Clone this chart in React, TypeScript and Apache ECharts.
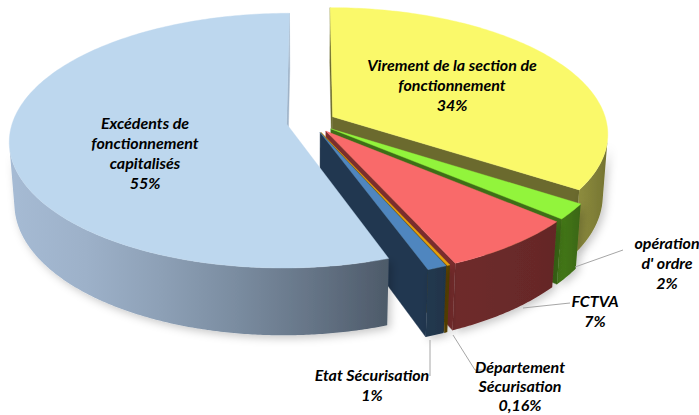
import React, { useEffect, useRef } from 'react';
import * as echarts from 'echarts';

// ---- data ----
const NAMES = [
  'Virement de la section de fonctionnement',
  "opération d' ordre",
  'FCTVA',
  'Département Sécurisation',
  'Etat Sécurisation',
  'Excédents de fonctionnement capitalisés',
];
const VALUES = [34, 2, 7, 0.16, 1, 55];
const LABEL_LINES = [
  ['Virement de la section de', 'fonctionnement'],
  ['opération', "d' ordre"],
  ['FCTVA'],
  ['Département', 'Sécurisation'],
  ['Etat Sécurisation'],
  ['Excédents de', 'fonctionnement', 'capitalisés'],
];

// ---- styles ----
const TOP_COLORS = ['#FAF96A', '#92F43C', '#F96A6A', '#E4A10C', '#4F86BF', '#BDD7EE'];
const WALL_LIGHT = ['#8E8D3E', '#44781A', '#6E2B2B', '#5E4700', '#22384F', '#A6BBD4'];
const WALL_DARK = ['#727131', '#3A6614', '#642727', '#554000', '#1F3449', '#4D5A69'];
const FACE_COLORS = ['#6B6A2E', '#3E6E17', '#7A2D2D', '#5E4700', '#213750', '#9FB3C8'];
const LABEL_POS = [
  [452, 84],
  [667, 262],
  [595, 310],
  [520, 385],
  [372, 384],
  [145, 152],
];
const LABEL_LH = [20, 20, 20, 19, 20, 20];
const LEADERS = [
  null,
  [[575, 267], [623, 250]],
  [[523, 308], [570, 303]],
  [[453, 335], [475, 370], [487, 370]],
  [[430, 340], [430, 376]],
  null,
];

// ---- projection (3D pie with perspective) ----
const CX = 311;
const CY = 122;
const S = 274;
const SIN_A = 0.455;
const COS_A = Math.sqrt(1 - SIN_A * SIN_A);
const DIST = 6.8;
const H = 0.254;
const EXPLODE = 0.09;
const CAM = [0, DIST * SIN_A, DIST * COS_A];

function proj(p: number[]): number[] {
  const [x, y, z] = p;
  const yv = y * COS_A - z * SIN_A;
  const d = y * SIN_A + z * COS_A;
  const f = DIST / (DIST - d);
  return [CX + x * f * S, CY - yv * f * S];
}

function hexToRgb(h: string) {
  const n = parseInt(h.slice(1), 16);
  return [(n >> 16) & 255, (n >> 8) & 255, n & 255];
}
function mix(a: string, b: string, t: number) {
  const A = hexToRgb(a);
  const B = hexToRgb(b);
  const c = A.map((v, i) => Math.round(v + (B[i] - v) * t));
  return `rgb(${c[0]},${c[1]},${c[2]})`;
}

const TOTAL = VALUES.reduce((a, b) => a + b, 0);
const STARTS: number[] = [];
{
  let acc = 0;
  VALUES.forEach((v) => {
    STARTS.push(90 - (acc / TOTAL) * 360);
    acc += v;
  });
}

function buildSlice(i: number) {
  const a0 = STARTS[i];
  const a1 = a0 - (VALUES[i] / TOTAL) * 360;
  const m = (((a0 + a1) / 2) * Math.PI) / 180;
  const ax = EXPLODE * Math.cos(m);
  const az = -EXPLODE * Math.sin(m);
  const rim = (deg: number, y: number) => {
    const t = (deg * Math.PI) / 180;
    return [ax + Math.cos(t), y, az - Math.sin(t)];
  };
  const dist = (p: number[]) =>
    Math.hypot(CAM[0] - p[0], CAM[1] - p[1], CAM[2] - p[2]);
  const visible = (ndeg: number, p: number[]) => {
    const t = (ndeg * Math.PI) / 180;
    const n = [Math.cos(t), 0, -Math.sin(t)];
    return n[0] * (CAM[0] - p[0]) + n[2] * (CAM[2] - p[2]) > 0;
  };
  const children: any[] = [];

  // top face
  const nTop = Math.max(2, Math.ceil(a0 - a1));
  const topPts = [proj([ax, 0, az])];
  for (let k = 0; k <= nTop; k++) {
    topPts.push(proj(rim(a0 - ((a0 - a1) * k) / nTop, 0)));
  }
  children.push({
    type: 'polygon',
    shape: { points: topPts },
    style: { fill: TOP_COLORS[i], stroke: TOP_COLORS[i], lineWidth: 0.4 },
    z2: 5000,
  });

  // outer wall: the visible part of the arc as one polygon
  const steps = Math.max(4, Math.ceil((a0 - a1) * 2));
  const vis: number[] = [];
  for (let k = 0; k <= steps; k++) {
    const t = a0 - ((a0 - a1) * k) / steps;
    if (visible(t, rim(t, -H / 2))) vis.push(t);
  }
  if (vis.length >= 2) {
    const topArc = vis.map((t) => proj(rim(t, 0)));
    const botArc = vis.map((t) => proj(rim(t, -H))).reverse();
    let dmin = Infinity;
    vis.forEach((t) => {
      dmin = Math.min(dmin, dist(rim(t, -H / 2)));
    });
    const stops = [0, 0.2, 0.4, 0.6, 0.8, 1].map((o) => ({
      offset: o,
      color: mix(WALL_LIGHT[i], WALL_DARK[i], Math.pow(o, 1.4)),
    }));
    children.push({
      type: 'polygon',
      shape: { points: [...topArc, ...botArc] },
      style: {
        fill: new echarts.graphic.LinearGradient(0, 0, 1, 0, stops),
        shadowBlur: 8,
        shadowColor: 'rgba(0,0,0,0.22)',
        shadowOffsetX: 3,
        shadowOffsetY: 3,
      },
      z2: 1000 - dmin * 100,
    });
  }

  // radial faces
  const faces: [number, number][] = [
    [a0, a0 + 90],
    [a1, a1 - 90],
  ];
  faces.forEach(([th, nd]) => {
    const c = rim(th, -H / 2);
    const mid = [(ax + c[0]) / 2, -H / 2, (az + c[2]) / 2];
    if (!visible(nd, mid)) return;
    const pts = [
      proj([ax, 0, az]),
      proj(rim(th, 0)),
      proj(rim(th, -H)),
      proj([ax, -H, az]),
    ];
    children.push({
      type: 'polygon',
      shape: { points: pts },
      style: { fill: FACE_COLORS[i], stroke: FACE_COLORS[i], lineWidth: 0.4 },
      z2: 1000 - dist(mid) * 100,
    });
  });

  return { type: 'group', children };
}

function pctText(v: number) {
  return String(v).replace('.', ',') + '%';
}

export default function App() {
  const ref = useRef<HTMLDivElement>(null);
  useEffect(() => {
    document.body.style.margin = '0';
    if (!ref.current) return;
    const chart = echarts.init(ref.current, null, { renderer: 'svg' });
    const labelEls = VALUES.map((v, i) => ({
      type: 'text',
      silent: true,
      z: 10,
      style: {
        text: [...LABEL_LINES[i], pctText(v)].join('\n'),
        x: LABEL_POS[i][0],
        y: LABEL_POS[i][1],
        fill: '#000000',
        font: 'italic bold 16px Lato',
        fontFamily: 'Lato',
        fontSize: 16,
        fontWeight: 'bold',
        fontStyle: 'italic',
        lineHeight: LABEL_LH[i],
        align: 'center',
        verticalAlign: 'middle',
        textAlign: 'center',
        textVerticalAlign: 'middle',
      },
    }));
    const lineEls = LEADERS.filter((l) => l).map((pts) => ({
      type: 'polyline',
      silent: true,
      z: 9,
      shape: { points: pts },
      style: { stroke: '#A6A6A6', lineWidth: 1, fill: null },
    }));
    chart.setOption({
      animation: false,
      backgroundColor: '#ffffff',
      series: [
        {
          type: 'custom',
          coordinateSystem: 'none',
          silent: true,
          data: VALUES.map((v, i) => ({ name: NAMES[i], value: v })),
          renderItem: (params: any) => buildSlice(params.dataIndex),
        },
      ],
      graphic: { elements: [...lineEls, ...labelEls] },
    });
    return () => chart.dispose();
  }, []);
  return <div ref={ref} style={{ width: 699, height: 415 }} />;
}
